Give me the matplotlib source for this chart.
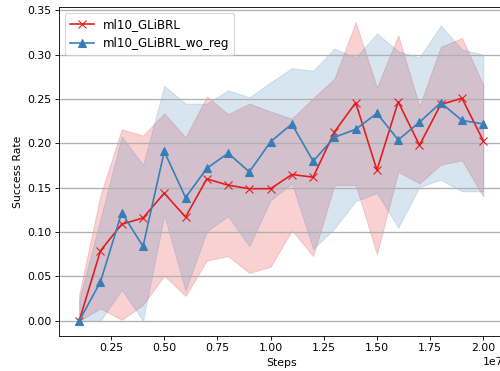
import numpy as np
import matplotlib
matplotlib.use("Agg")
import matplotlib.pyplot as plt

# training steps (x 1e7)
steps = np.array([0.1, 0.2, 0.3, 0.4, 0.5, 0.6, 0.7, 0.8, 0.9, 1.0,
                  1.1, 1.2, 1.3, 1.4, 1.5, 1.6, 1.7, 1.8, 1.9, 2.0]) * 1e7

# ml10_GLiBRL
red_mean = [0.0, 0.079, 0.109, 0.116, 0.144, 0.117, 0.160, 0.153, 0.149, 0.149,
            0.165, 0.162, 0.213, 0.246, 0.170, 0.247, 0.198, 0.244, 0.251, 0.203]
red_upper = [0.030, 0.142, 0.216, 0.209, 0.234, 0.207, 0.253, 0.233, 0.245, 0.236,
             0.228, 0.251, 0.273, 0.337, 0.263, 0.322, 0.242, 0.309, 0.319, 0.266]
red_lower = [0.0, 0.014, 0.001, 0.018, 0.051, 0.028, 0.068, 0.073, 0.054, 0.061,
             0.102, 0.073, 0.153, 0.153, 0.075, 0.168, 0.155, 0.176, 0.181, 0.140]

# ml10_GLiBRL_wo_reg
blue_mean = [0.0, 0.044, 0.122, 0.084, 0.191, 0.139, 0.172, 0.189, 0.168, 0.202,
             0.222, 0.180, 0.207, 0.216, 0.234, 0.204, 0.224, 0.246, 0.226, 0.222]
blue_upper = [0.024, 0.115, 0.208, 0.176, 0.265, 0.245, 0.245, 0.260, 0.252, 0.269,
              0.285, 0.282, 0.307, 0.297, 0.324, 0.304, 0.297, 0.333, 0.306, 0.300]
blue_lower = [0.0, 0.0, 0.035, 0.0, 0.119, 0.034, 0.101, 0.118, 0.084, 0.136,
              0.155, 0.081, 0.104, 0.135, 0.144, 0.105, 0.151, 0.159, 0.146, 0.146]

red = "#e41a1c"
blue = "#377eb8"

dpi = 500 / 6.4
fig = plt.figure(figsize=(6.4, 371 / dpi), dpi=dpi)
ax = fig.add_axes([0.118, 0.095, 0.889, 0.886])

ax.fill_between(steps, red_lower, red_upper, color=red, alpha=0.2, lw=0.8)
ax.plot(steps, red_mean, color=red, marker="x", ms=7, lw=1.5, label="ml10_GLiBRL")
ax.fill_between(steps, blue_lower, blue_upper, color=blue, alpha=0.2, lw=0.8)
ax.plot(steps, blue_mean, color=blue, marker="^", ms=7, lw=1.5, label="ml10_GLiBRL_wo_reg")

ax.set_xlabel("Steps")
ax.set_ylabel("Success Rate")
ax.grid(axis="y", color="#b0b0b0", lw=1.2)
ax.legend(loc="upper left", fontsize=11)

fig.savefig("out.png", dpi=dpi)
